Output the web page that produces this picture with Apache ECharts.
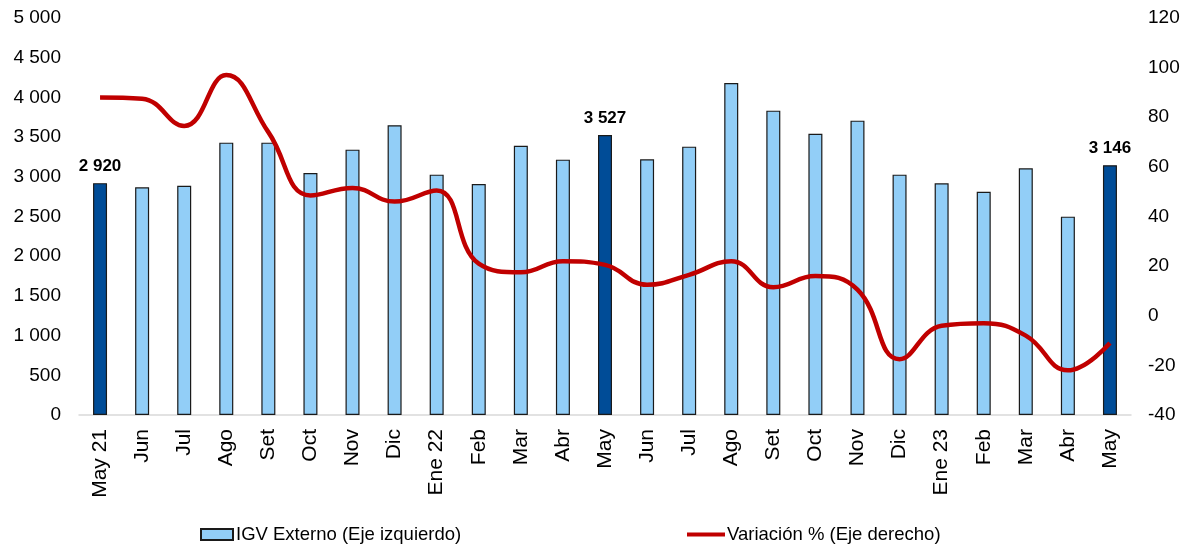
<!DOCTYPE html>
<html lang="es">
<head>
<meta charset="UTF-8">
<title>IGV Externo</title>
<script src="https://cdn.jsdelivr.net/npm/echarts@6/dist/echarts.min.js"></script>
<style>
  html, body { margin: 0; padding: 0; background: #fff; }
</style>
</head>
<body>
<div id="main" style="width:1186px;height:544px;"></div>
<script>
// meses
const meses = ['May 21', 'Jun', 'Jul', 'Ago', 'Set', 'Oct', 'Nov', 'Dic', 'Ene 22', 'Feb', 'Mar', 'Abr',
  'May', 'Jun', 'Jul', 'Ago', 'Set', 'Oct', 'Nov', 'Dic', 'Ene 23', 'Feb', 'Mar', 'Abr', 'May'];

// IGV externo (millones), eje izquierdo
const igvExterno = [2920, 2868, 2888, 3430, 3430, 3048, 3342, 3649, 3027, 2909, 3392, 3216,
  3527, 3220, 3380, 4181, 3833, 3543, 3707, 3027, 2918, 2812, 3107, 2498, 3146];

// variacion %, eje derecho
const variacion = [88, 87.5, 76.5, 97, 74, 48.5, 51.5, 46, 50.5, 21, 17.5, 22,
  20.5, 12.5, 16.5, 22, 11.5, 16, 10.5, -17.5, -4, -3, -8, -22, -11];

// meses destacados (barra oscura + etiqueta)
const destacados = [0, 12, 24];

const fuente = "'Liberation Sans', Arial, sans-serif";
const celeste = '#92CEF7';
const azul = '#004C97';
const rojo = '#C00000';

const fmt = v => String(v).replace(/\B(?=(\d{3})+(?!\d))/g, ' ');

const barras = igvExterno.map((v, i) => {
  if (destacados.indexOf(i) < 0) return v;
  return {
    value: v,
    itemStyle: { color: azul },
    label: {
      show: true, position: 'top', distance: 8,
      fontFamily: fuente, fontSize: 17, fontWeight: 'bold', color: '#000',
      formatter: p => fmt(p.value)
    }
  };
});

const chart = echarts.init(document.getElementById('main'));

const option = {
  animation: false,
  textStyle: { fontFamily: fuente },
  grid: { left: 79, right: 55, top: 18, bottom: 129, containLabel: false },
  legend: [
    {
      data: [{ name: 'IGV Externo (Eje izquierdo)', icon: 'rect' }],
      left: 200, top: 525, padding: 0,
      itemWidth: 32, itemHeight: 11,
      textStyle: { fontFamily: fuente, fontSize: 18.5, color: '#000', padding: [0, 0, 0, -2] }
    },
    {
      data: [{ name: 'Variación % (Eje derecho)', icon: 'rect' }],
      left: 687, top: 525, padding: 0,
      itemWidth: 38, itemHeight: 4,
      textStyle: { fontFamily: fuente, fontSize: 18.5, color: '#000', padding: [0, 0, 0, -3] }
    }
  ],
  xAxis: {
    type: 'category',
    data: meses,
    axisLine: { lineStyle: { color: '#d9d9d9', width: 1.5 } },
    axisTick: { show: false },
    axisLabel: {
      rotate: 90, margin: 14, interval: 0,
      fontFamily: fuente, fontSize: 21, color: '#000'
    }
  },
  yAxis: [
    {
      type: 'value', min: 0, max: 5000, interval: 500,
      splitLine: { show: false },
      axisLine: { show: false },
      axisLabel: { margin: 18, fontFamily: fuente, fontSize: 19, color: '#000', formatter: v => fmt(v) }
    },
    {
      type: 'value', min: -40, max: 120, interval: 20,
      splitLine: { show: false },
      axisLine: { show: false },
      axisLabel: { margin: 17, fontFamily: fuente, fontSize: 19, color: '#000' }
    }
  ],
  series: [
    {
      name: 'IGV Externo (Eje izquierdo)',
      type: 'bar',
      yAxisIndex: 0,
      barWidth: 14,
      itemStyle: { color: celeste, borderColor: '#1a1a1a', borderWidth: 1.2 },
      data: barras
    },
    {
      name: 'Variación % (Eje derecho)',
      type: 'line',
      yAxisIndex: 1,
      smooth: 0.45,
      showSymbol: false,
      lineStyle: { color: rojo, width: 4.5 },
      itemStyle: { color: rojo },
      data: variacion
    }
  ]
};

chart.setOption(option);
</script>
</body>
</html>
